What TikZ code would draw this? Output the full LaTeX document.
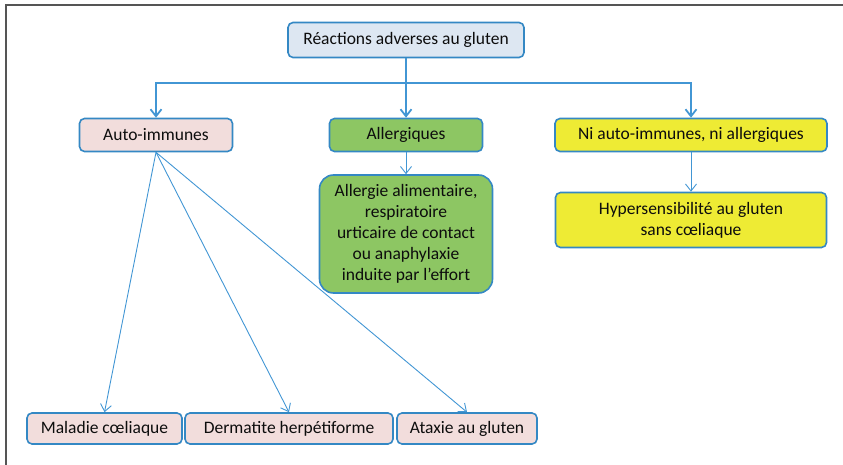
\documentclass[tikz,border=0pt]{standalone}
\usepackage{fontspec}
\setmainfont{Carlito}
\usetikzlibrary{arrows.meta, positioning}
\definecolor{boxblue}{RGB}{52,136,196}
\definecolor{linkblue}{RGB}{66,150,212}
\definecolor{pinkfill}{RGB}{242,221,220}
\definecolor{greenfill}{RGB}{141,198,99}
\definecolor{yellowfill}{RGB}{238,235,52}
\definecolor{topfill}{RGB}{221,231,242}
\definecolor{framegray}{RGB}{85,85,85}
\tikzset{x = 1pt, y = 1pt,
         node distance = 100pt, on grid,
         >= {Straight Barb[length = 7pt, width = 11pt]},
         box/.style = {draw = boxblue, line width = 1.6pt,
                       rounded corners = 5pt, align = center,
                       inner sep = 2pt, text = black!95,
                       font = \fontsize{17.5}{21}\selectfont},
         topbox/.style = {box, fill = topfill},
         pinkbox/.style = {box, fill = pinkfill},
         greenbox/.style = {box, fill = greenfill},
         yellowbox/.style = {box, fill = yellowfill},
         link/.style = {draw = linkblue, line width = 1.8pt},
         thinlink/.style = {draw = linkblue, line width = 0.9pt}}

\begin{document}
\begin{tikzpicture}
        \useasboundingbox (0,0) rectangle (843,-465);
        \draw[framegray, line width = 1.4pt] (6,-465) -- (6,-5) -- (843,-5);

        \node[topbox, minimum width = 236, minimum height = 35]    (top)    at (406,-40)  {Réactions adverses au gluten};
        \node[pinkbox, minimum width = 153, minimum height = 33]   (auto)   at (156,-135) {Auto-immunes};
        \node[greenbox, minimum width = 153, minimum height = 33]  (allerg) at (406,-135) {Allergiques};
        \node[yellowbox, minimum width = 272, minimum height = 33] (ni)     at (691,-135) {Ni auto-immunes, ni allergiques};

        \node[greenbox, rounded corners = 14pt, minimum width = 173, minimum height = 118]
                                   (aliment) [below = 99pt of allerg] {Allergie alimentaire,\\ respiratoire\\ urticaire de contact\\ ou anaphylaxie\\ induite par l’effort};
        \node[yellowbox, minimum width = 271, minimum height = 55]
                                   (hyper)   [below = 85pt of ni]     {Hypersensibilité au gluten\\ sans cœliaque};

        \node[pinkbox, minimum width = 155, minimum height = 31]   (maladie) at (104.5,-428.5)       {Maladie cœliaque};
        \node[pinkbox, minimum width = 208, minimum height = 31]   (derma)   [right = 184.5pt of maladie] {Dermatite herpétiforme};
        \node[pinkbox, minimum width = 140, minimum height = 31]   (ataxie)  [right = 178pt of derma]     {Ataxie au gluten};

        \coordinate (split) at (406,-83);
        \draw[link]     (top) -- (split);
        \draw[link, ->] (split) -| (auto);
        \draw[link, ->] (split) -- (allerg);
        \draw[link, ->] (split) -| (ni);

        \draw[thinlink, ->] (allerg) -- (aliment);
        \draw[thinlink, ->] (ni)     -- (hyper);

        \draw[thinlink, ->] (auto.south) -- (maladie.north);
        \draw[thinlink, ->] (auto.south) -- (derma.north);
        \draw[thinlink, ->] (auto.south) -- (ataxie.north);
\end{tikzpicture}
\end{document}
